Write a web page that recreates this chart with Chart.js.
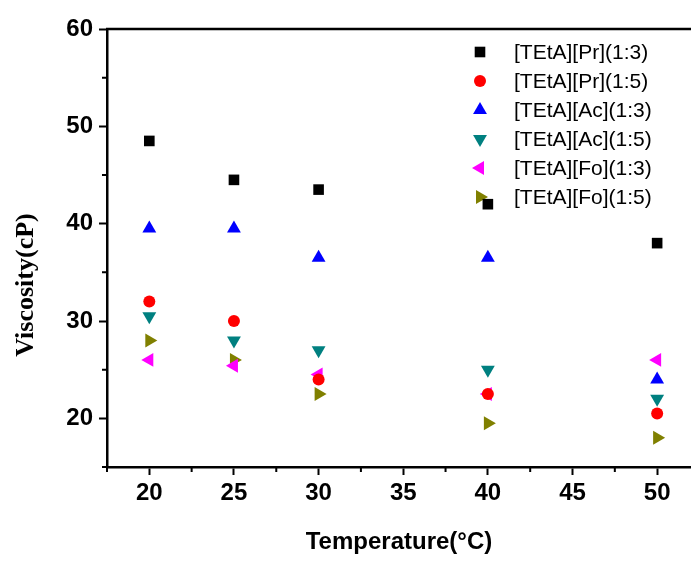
<!DOCTYPE html>
<html>
<head>
<meta charset="utf-8">
<script src="https://cdn.jsdelivr.net/npm/chart.js@4/dist/chart.umd.min.js"></script>
<style>
  html, body { margin: 0; padding: 0; background: #fff; }
</style>
</head>
<body>
<canvas id="graficoViscosidade" width="691" height="561"></canvas>
<script>
// ======== DADOS ===========
const temperatures = [20, 25, 30, 40, 50];
const prRatio13 = [48.5, 44.5, 43.5, 42, 38];
const prRatio15 = [32, 30, 24, 22.5, 20.5];
const acRatio13 = [39.5, 39.5, 36.5, 36.5, 24];
const acRatio15 = [30.5, 28, 27, 25, 22];
const foRatio13 = [26, 25.4, 24.5, 22.5, 26];
const foRatio15 = [28, 26, 22.5, 19.5, 18];

const xTicks = [20, 25, 30, 35, 40, 45, 50];
const yTicks = [20, 30, 40, 50, 60];

// rótulos e estilos de cada série
const series = [
  { label: '[TEtA][Pr](1:3)', values: prRatio13, color: '#000000', style: 'rect', rot: 0, r: 7.5 },
  { label: '[TEtA][Pr](1:5)', values: prRatio15, color: '#ff0000', style: 'circle', rot: 0, r: 6 },
  { label: '[TEtA][Ac](1:3)', values: acRatio13, color: '#0000ff', style: 'triangle', rot: 0, r: 8 },
  { label: '[TEtA][Ac](1:5)', values: acRatio15, color: '#008080', style: 'triangle', rot: 180, r: 8 },
  { label: '[TEtA][Fo](1:3)', values: foRatio13, color: '#ff00ff', style: 'triangle', rot: 270, r: 8 },
  { label: '[TEtA][Fo](1:5)', values: foRatio15, color: '#808000', style: 'triangle', rot: 90, r: 8 }
];

const FONT = "'Liberation Sans', Arial, sans-serif";

// ======== PLUGINS ===========
// moldura superior + ticks menores + título Y
const frame = {
  id: 'frame',
  afterDraw(chart) {
    const { ctx, chartArea: a, scales: { x, y } } = chart;
    ctx.save();
    ctx.strokeStyle = '#000';
    ctx.lineWidth = 2.5;
    ctx.beginPath();
    ctx.moveTo(a.left - 1, a.top);
    ctx.lineTo(a.right, a.top);
    ctx.stroke();

    ctx.lineWidth = 2;
    ctx.beginPath();
    xTicks.forEach(v => {
      const px = x.getPixelForValue(v - 2.5);
      if (px >= a.left - 2) {
        ctx.moveTo(px, a.bottom);
        ctx.lineTo(px, a.bottom + 5);
      }
    });
    yTicks.forEach(v => {
      const py = y.getPixelForValue(v - 5);
      if (py <= a.bottom + 2) {
        ctx.moveTo(a.left, py);
        ctx.lineTo(a.left - 5, py);
      }
    });
    ctx.stroke();

    ctx.fillStyle = '#000';
    ctx.font = "bold 26px 'Liberation Serif', 'Times New Roman', serif";
    ctx.textAlign = 'center';
    ctx.textBaseline = 'alphabetic';
    ctx.translate(33, 285);
    ctx.rotate(-Math.PI / 2);
    ctx.fillText('Viscosity(cP)', 0, 0);
    ctx.restore();
  }
};

// legenda dentro da área do gráfico
const insideLegend = {
  id: 'insideLegend',
  beforeDatasetsDraw(chart) {
    const { ctx } = chart;
    ctx.save();
    chart.data.datasets.forEach((ds, i) => {
      const yRow = 52 + i * 29;
      ctx.fillStyle = ds.backgroundColor;
      ctx.strokeStyle = ds.borderColor;
      Chart.helpers.drawPoint(ctx, {
        pointStyle: ds.pointStyle,
        rotation: ds.pointRotation,
        radius: ds.pointRadius,
        borderWidth: 0
      }, 480, yRow);
      ctx.fillStyle = '#000';
      ctx.font = '21px ' + FONT;
      ctx.textAlign = 'left';
      ctx.textBaseline = 'middle';
      ctx.fillText(ds.label, 514, yRow + 1);
    });
    ctx.restore();
  }
};

// ======== GRÁFICO ===========
new Chart(document.getElementById('graficoViscosidade'), {
  type: 'scatter',
  data: {
    datasets: series.map(s => ({
      label: s.label,
      data: temperatures.map((t, i) => ({ x: t, y: s.values[i] })),
      backgroundColor: s.color,
      borderColor: s.color,
      borderWidth: 0,
      pointStyle: s.style,
      pointRotation: s.rot,
      pointRadius: s.r,
      pointHoverRadius: s.r
    }))
  },
  options: {
    responsive: false,
    animation: false,
    layout: { autoPadding: false, padding: { top: 29, right: 0, left: 0, bottom: 0 } },
    plugins: {
      legend: { display: false },
      tooltip: { enabled: false }
    },
    scales: {
      x: {
        type: 'linear',
        min: 17.5,
        max: 52,
        afterBuildTicks: s => { s.ticks = xTicks.map(v => ({ value: v })); },
        afterFit: s => { s.height = 94; s.paddingLeft = 0; s.paddingRight = 0; },
        border: { color: '#000', width: 2.5 },
        grid: { drawOnChartArea: false, tickLength: 8, tickWidth: 2, tickColor: '#000' },
        ticks: { color: '#000', padding: 4, font: { family: FONT, size: 24, weight: 'bold' } },
        title: {
          display: true,
          text: 'Temperature(°C)',
          color: '#000',
          padding: { top: 0, bottom: 4 },
          font: { family: FONT, size: 24, weight: 'bold' }
        }
      },
      y: {
        type: 'linear',
        min: 15,
        max: 60,
        afterBuildTicks: s => { s.ticks = yTicks.map(v => ({ value: v })); },
        afterFit: s => { s.width = 107; },
        border: { color: '#000', width: 2.5 },
        grid: { drawOnChartArea: false, tickLength: 8, tickWidth: 2, tickColor: '#000' },
        ticks: { color: '#000', padding: 6, font: { family: FONT, size: 24, weight: 'bold' } }
      }
    }
  },
  plugins: [frame, insideLegend]
});
</script>
</body>
</html>
